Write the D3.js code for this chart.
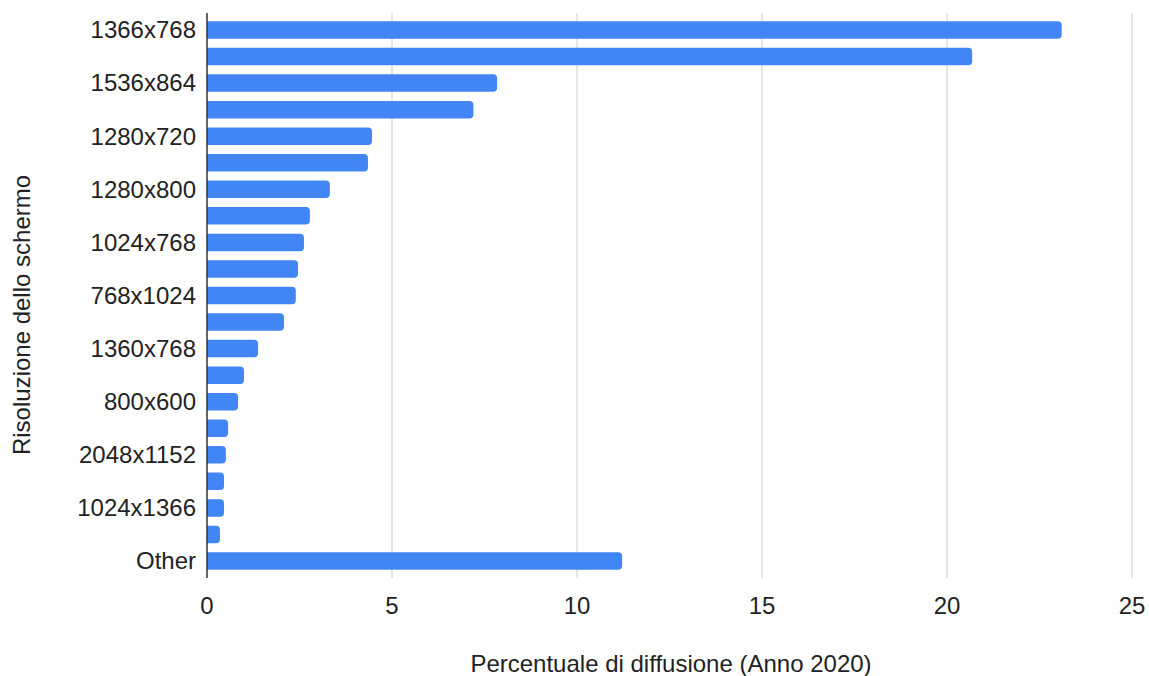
<!DOCTYPE html>
<html>
<head>
<meta charset="utf-8">
<script src="https://cdn.jsdelivr.net/npm/d3@7"></script>
<style>
  body { margin: 0; background: #fff; }
  text { font-family: "Liberation Sans", Arial, sans-serif; fill: #222; }
</style>
</head>
<body>
<div id="viz"></div>
<script>
// data
var resolutions = ["1366x768", "1920x1080", "1536x864", "1440x900", "1280x720", "1600x900",
  "1280x800", "1280x1024", "1024x768", "414x896", "768x1024", "1680x1050", "1360x768",
  "360x640", "800x600", "375x667", "2048x1152", "1920x1200", "1024x1366", "2560x1440", "Other"];
var shares = [23.1, 20.68, 7.84, 7.2, 4.46, 4.35, 3.32, 2.78, 2.62, 2.46, 2.4, 2.08, 1.38,
  1.0, 0.84, 0.57, 0.51, 0.46, 0.46, 0.35, 11.22];
var xTicks = [0, 5, 10, 15, 20, 25];

var width = 1149,
    height = 676,
    margin = { top: 13, right: 17, bottom: 98, left: 207 };

var x = d3.scaleLinear()
  .domain([0, 25])
  .range([margin.left, width - margin.right]);

var y = d3.scaleBand()
  .domain(resolutions)
  .range([margin.top, height - margin.bottom])
  .paddingInner(0.34)
  .paddingOuter(0.31);

var svg = d3.select("#viz").append("svg")
  .attr("width", width)
  .attr("height", height);

// gridlines
svg.append("g").selectAll("line")
  .data(xTicks.filter(function(d) { return d > 0; }))
  .enter().append("line")
    .attr("x1", function(d) { return x(d); })
    .attr("x2", function(d) { return x(d); })
    .attr("y1", margin.top)
    .attr("y2", height - margin.bottom)
    .attr("stroke", "#cccccc")
    .attr("stroke-width", 1);

// bars, rounded only on the right end
var r = 4;
svg.append("g").selectAll("path")
  .data(shares)
  .enter().append("path")
    .attr("fill", "#4285f4")
    .attr("d", function(d, i) {
      var x0 = x(0), x1 = x(d), y0 = y(resolutions[i]), h = y.bandwidth();
      var rr = Math.min(r, (x1 - x0) / 2);
      return "M" + x0 + "," + y0 +
        "H" + (x1 - rr) +
        "Q" + x1 + "," + y0 + " " + x1 + "," + (y0 + rr) +
        "V" + (y0 + h - rr) +
        "Q" + x1 + "," + (y0 + h) + " " + (x1 - rr) + "," + (y0 + h) +
        "H" + x0 + "Z";
    });

// baseline
svg.append("line")
  .attr("x1", x(0)).attr("x2", x(0))
  .attr("y1", margin.top).attr("y2", height - margin.bottom)
  .attr("stroke", "#333")
  .attr("stroke-width", 1.5);

// y labels: every other category shown
svg.append("g").selectAll("text")
  .data(resolutions.filter(function(d, i) { return i % 2 === 0; }))
  .enter().append("text")
    .attr("x", x(0) - 11)
    .attr("y", function(d) { return y(d) + y.bandwidth() / 2; })
    .attr("dy", "0.35em")
    .attr("text-anchor", "end")
    .style("font-size", "24px")
    .text(function(d) { return d; });

// x tick labels
svg.append("g").selectAll("text")
  .data(xTicks)
  .enter().append("text")
    .attr("x", function(d) { return x(d); })
    .attr("y", 606)
    .attr("dy", "0.35em")
    .attr("text-anchor", "middle")
    .style("font-size", "24px")
    .text(function(d) { return d; });

// axis titles
svg.append("text")
  .attr("x", 671)
  .attr("y", 664)
  .attr("dy", "0.35em")
  .attr("text-anchor", "middle")
  .style("font-size", "24px")
  .text("Percentuale di diffusione (Anno 2020)");

svg.append("text")
  .attr("transform", "translate(22," + 315 + ") rotate(-90)")
  .attr("dy", "0.35em")
  .attr("text-anchor", "middle")
  .style("font-size", "24px")
  .text("Risoluzione dello schermo");
</script>
</body>
</html>
